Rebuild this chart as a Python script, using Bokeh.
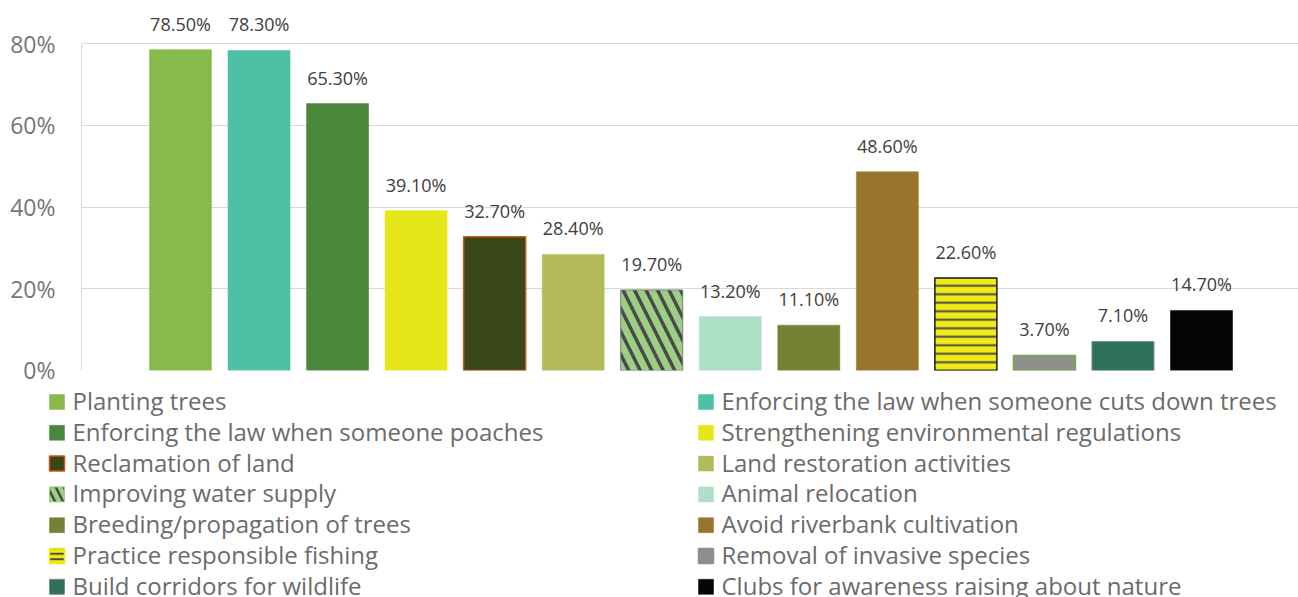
from bokeh.plotting import figure
from bokeh.models import ColumnDataSource, Range1d, LabelSet, FixedTicker
from bokeh.layouts import column, row
from bokeh.core.properties import value
from bokeh.embed import file_html
from bokeh.resources import INLINE

# ---- data ----
categories = [
    "Planting trees",
    "Enforcing the law when someone cuts down trees",
    "Enforcing the law when someone poaches",
    "Strengthening environmental regulations",
    "Reclamation of land",
    "Land restoration activities",
    "Improving water supply",
    "Animal relocation",
    "Breeding/propagation of trees",
    "Avoid riverbank cultivation",
    "Practice responsible fishing",
    "Removal of invasive species",
    "Build corridors for wildlife",
    "Clubs for awareness raising about nature",
]
values = [78.5, 78.3, 65.3, 39.1, 32.7, 28.4, 19.7, 13.2, 11.1, 48.6, 22.6, 3.7, 7.1, 14.7]
tick_values = [0, 20, 40, 60, 80]
tick_labels = ["0%", "20%", "40%", "60%", "80%"]

# ---- styles ----
fill_colors = ["#88BA4B", "#4DC0A5", "#4A873B", "#E6E619", "#39461A", "#B5BA5D", "#9CCF83",
               "#AEDFC7", "#748235", "#98752C", "#F0EB14", "#8E918B", "#2F725A", "#050505"]
line_colors = ["#88BA4B", "#4DC0A5", "#4A873B", "#E6E619", "#C55A11", "#B5BA5D", "#7F7F7F",
               "#AEDFC7", "#748235", "#98752C", "#1A1A1A", "#70AD47", "#7F8F88", "#050505"]
line_widths = [0.5, 0.5, 0.5, 0.5, 1.5, 0.5, 1, 0.5, 0.5, 0.5, 1.5, 1.5, 1, 0.5]
legend_line_colors = ["#88BA4B", "#4DC0A5", "#4A873B", "#E6E619", "#C55A11", "#B5BA5D", "#9CCF83",
                      "#AEDFC7", "#748235", "#98752C", "#F0EB14", "#8E918B", "#7F8F88", "#050505"]
hatch_patterns = [" "] * 6 + ["\\"] + [" "] * 3 + ["-"] + [" "] * 3
hatch_scales = [12] * 6 + [23] + [12] * 3 + [8.5] + [12] * 3
hatch_weights = [1] * 6 + [3.5] + [1] * 3 + [2] + [1] * 3
legend_hatch_scales = [12] * 6 + [16] + [12] * 3 + [5.5] + [12] * 3
legend_hatch_weights = [1] * 6 + [2.5] + [1] * 3 + [2] + [1] * 3
HATCH_COLOR = "#4A4A4A"

n = len(categories)
xs = list(range(1, n + 1))

PX_PER_UNIT = 327 / 80.0
FRAME_H = 370

p = figure(width=1298, height=385, output_backend="svg", toolbar_location=None,
           x_range=Range1d(-0.2605, 15.235), y_range=Range1d(0, FRAME_H / PX_PER_UNIT),
           min_border_left=81, min_border_right=0, min_border_top=0, min_border_bottom=15)
p.outline_line_color = None
p.background_fill_color = "white"
p.border_fill_color = "white"
p.xaxis.visible = False
p.xgrid.grid_line_color = None
p.ygrid.grid_line_color = "#D9D9D9"
p.ygrid.ticker = FixedTicker(ticks=tick_values)
p.yaxis.ticker = FixedTicker(ticks=tick_values)
p.yaxis.bounds = (tick_values[0], tick_values[-1])
p.yaxis.major_label_overrides = {v: l for v, l in zip(tick_values, tick_labels)}
p.yaxis.axis_line_color = "#D9D9D9"
p.yaxis.major_tick_line_color = None
p.yaxis.minor_tick_line_color = None
p.yaxis.major_tick_out = 0
p.yaxis.major_tick_in = 0
p.yaxis.major_label_standoff = 26
p.yaxis.major_label_text_font = "Open Sans"
p.yaxis.major_label_text_font_size = "23px"
p.yaxis.major_label_text_color = "#767676"

for i in range(n):
    src = ColumnDataSource(dict(x=[xs[i]], top=[values[i]]))
    p.vbar(x="x", top="top", bottom=0, width=0.79, source=src,
           fill_color=fill_colors[i], line_color=line_colors[i], line_width=line_widths[i],
           hatch_pattern=hatch_patterns[i], hatch_color=HATCH_COLOR,
           hatch_scale=hatch_scales[i], hatch_weight=hatch_weights[i])

lab_src = ColumnDataSource(dict(x=xs, y=values, t=[f"{v:.2f}%" for v in values]))
labels = LabelSet(x="x", y="y", text="t", source=lab_src, y_offset=19,
                  text_align="center", text_baseline="alphabetic",
                  text_font=value("Open Sans"), text_font_size="18px", text_color="#404040")
p.add_layout(labels)

# ---- legend panel (two columns, row-major order) ----
LEG_H = 212
q = figure(width=1298, height=LEG_H, output_backend="svg", toolbar_location=None,
           x_range=Range1d(0, 1298), y_range=Range1d(LEG_H, 0),
           min_border_left=0, min_border_right=0, min_border_top=0, min_border_bottom=0)
q.outline_line_color = None
q.axis.visible = False
q.grid.grid_line_color = None

COL_X0 = 49
COL_DX = 649
ROW_Y0 = 9
ROW_DY = 30.8
BOX = 15
TEXT_DY = 6
cols = [i % 2 for i in range(n)]
rows = [i // 2 for i in range(n)]
box_x = [COL_X0 + c * COL_DX + BOX / 2 for c in cols]
box_y = [ROW_Y0 + r * ROW_DY + BOX / 2 for r in rows]
txt_x = [COL_X0 + c * COL_DX + 23 for c in cols]
txt_y = [ROW_Y0 + r * ROW_DY + TEXT_DY for r in rows]

leg_src = ColumnDataSource(dict(bx=box_x, by=box_y, tx=txt_x, ty=txt_y, label=categories,
                                fc=fill_colors, lc=legend_line_colors, lw=line_widths,
                                hp=hatch_patterns, hs=legend_hatch_scales,
                                hw=legend_hatch_weights))
q.rect(x="bx", y="by", width=BOX, height=BOX, source=leg_src,
       fill_color="fc", line_color="lc", line_width="lw",
       hatch_pattern="hp", hatch_color=HATCH_COLOR, hatch_scale="hs", hatch_weight="hw")
q.text(x="tx", y="ty", text="label", source=leg_src, text_baseline="alphabetic",
       text_align="left", text_font=value("Open Sans"), text_font_size="24px",
       text_color="#6B6B6B")

layout = column(row(p), row(q), spacing=0)
open("out.html", "w").write(file_html(layout, INLINE))
